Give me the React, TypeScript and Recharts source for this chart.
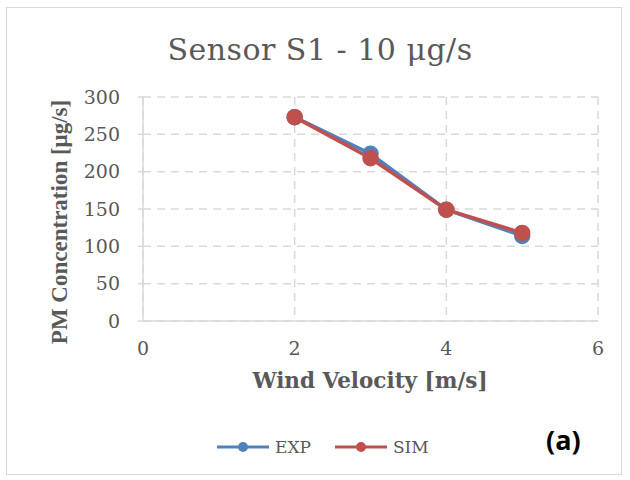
import React from 'react';
import { LineChart, Line, XAxis, YAxis, CartesianGrid } from 'recharts';

// wind velocity [m/s]
const velocities = [2, 3, 4, 5];
// measured and simulated PM concentration [µg/s]
const expValues = [273, 224, 149, 114];
const simValues = [273, 218, 149, 118];
const xTicks = [0, 2, 4, 6];
const yTicks = [0, 50, 100, 150, 200, 250, 300];

const series = [
  { key: 'EXP', color: '#4f81bd' },
  { key: 'SIM', color: '#c0504d' },
];

const data = velocities.map((v, i) => ({ v, EXP: expValues[i], SIM: simValues[i] }));

const serif = '"DejaVu Serif", serif';
const tickStyle = { fill: '#595959', fontSize: 19, fontFamily: serif };

export default function App() {
  return (
    <div style={{ position: 'absolute', left: 0, top: 0, width: 630, height: 480, background: '#fff' }}>
      <div style={{ position: 'absolute', left: 6, top: 7, width: 616, height: 468, border: '1px solid #d9d9d9', boxSizing: 'border-box' }} />
      <div style={{ position: 'absolute', left: 0, width: 640, top: 32, textAlign: 'center', fontFamily: serif, fontSize: 30, color: '#595959', letterSpacing: 0.5 }}>
        Sensor S1 - 10 μg/s
      </div>
      <div style={{ position: 'absolute', left: 0, top: 0 }}>
        <LineChart width={630} height={480} data={data} margin={{ top: 97, right: 32, left: 83, bottom: 129 }}>
          <CartesianGrid stroke="#d9d9d9" strokeDasharray="8 6" strokeWidth={1.5} />
          <XAxis
            dataKey="v"
            type="number"
            domain={[0, 6]}
            ticks={xTicks}
            height={30}
            stroke="#d9d9d9"
            strokeWidth={1.5}
            tickLine={false}
            tickMargin={15}
            tick={tickStyle}
          />
          <YAxis
            type="number"
            domain={[0, 300]}
            ticks={yTicks}
            width={60}
            stroke="#d9d9d9"
            strokeWidth={1.5}
            tickSize={5}
            tickMargin={18}
            tick={tickStyle}
          />
          {series.map((s) => (
            <Line
              key={s.key}
              dataKey={s.key}
              stroke={s.color}
              strokeWidth={3.5}
              dot={{ r: 6.5, fill: s.color, stroke: s.color }}
              isAnimationActive={false}
            />
          ))}
        </LineChart>
      </div>
      <div style={{ position: 'absolute', left: 60, top: 222, transform: 'translate(-50%, -50%) rotate(-90deg)', whiteSpace: 'nowrap', fontFamily: '"Liberation Serif", serif', fontWeight: 'bold', fontSize: 23, color: '#595959' }}>
        PM Concentration [μg/s]
      </div>
      <div style={{ position: 'absolute', left: 0, width: 740, top: 368, textAlign: 'center', fontFamily: serif, fontWeight: 'bold', fontSize: 21.5, color: '#595959' }}>
        Wind Velocity [m/s]
      </div>
      {/* legend */}
      <div style={{ position: 'absolute', left: 217, top: 436, display: 'flex', fontFamily: serif, fontSize: 17, color: '#595959' }}>
        {series.map((s, i) => (
          <div key={s.key} style={{ display: 'flex', alignItems: 'center', marginLeft: i === 0 ? 0 : 24 }}>
            <svg width={52} height={22}>
              <line x1={0} y1={11} x2={52} y2={11} stroke={s.color} strokeWidth={3} />
              <circle cx={26} cy={11} r={5} fill={s.color} />
            </svg>
            <span style={{ marginLeft: 6 }}>{s.key}</span>
          </div>
        ))}
      </div>
      <div style={{ position: 'absolute', left: 546, top: 421, fontFamily: '"Open Sans", sans-serif', fontWeight: 'bold', fontSize: 27, color: '#000' }}>
        (a)
      </div>
    </div>
  );
}
